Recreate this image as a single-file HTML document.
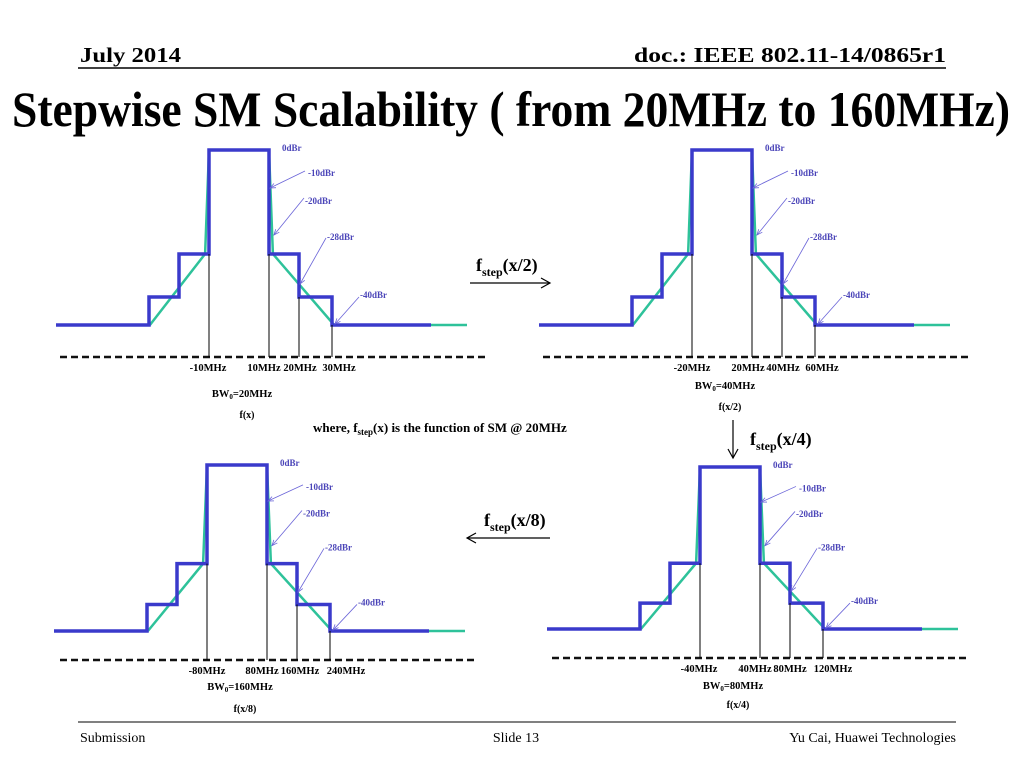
<!DOCTYPE html>
<html><head><meta charset="utf-8"><style>
html,body{margin:0;padding:0;background:#fff;}
svg{display:block;font-family:"Liberation Serif",serif;}
</style></head><body>
<svg id="slide" width="1024" height="768" viewBox="0 0 1024 768" xmlns="http://www.w3.org/2000/svg">
<text x="80" y="62" font-size="21" font-weight="bold" textLength="101" lengthAdjust="spacingAndGlyphs">July 2014</text>
<text x="634" y="62" font-size="21" font-weight="bold" textLength="312" lengthAdjust="spacingAndGlyphs">doc.: IEEE 802.11-14/0865r1</text>
<line x1="78" y1="68" x2="946" y2="68" stroke="#000" stroke-width="1.5"/>
<text x="12" y="126" font-size="50" font-weight="bold" textLength="998" lengthAdjust="spacingAndGlyphs">Stepwise SM Scalability ( from 20MHz to 160MHz)</text>

<g>
<text x="476" y="271" font-size="18" font-weight="bold">f<tspan font-size="12" dy="5">step</tspan><tspan dy="-5">(x/2)</tspan></text>
<line x1="470" y1="283" x2="550" y2="283" stroke="#000" stroke-width="1.2"/>
<polyline points="541,278 550,283 541,288" fill="none" stroke="#000" stroke-width="1.2"/>
</g>
<g>
<text x="750" y="445" font-size="18" font-weight="bold">f<tspan font-size="12" dy="5">step</tspan><tspan dy="-5">(x/4)</tspan></text>
<line x1="733" y1="420" x2="733" y2="458" stroke="#000" stroke-width="1.2"/>
<polyline points="728,449 733,458 738,449" fill="none" stroke="#000" stroke-width="1.2"/>
</g>
<g>
<text x="484" y="526" font-size="18" font-weight="bold">f<tspan font-size="12" dy="5">step</tspan><tspan dy="-5">(x/8)</tspan></text>
<line x1="467" y1="538" x2="550" y2="538" stroke="#000" stroke-width="1.2"/>
<polyline points="476,533 467,538 476,543" fill="none" stroke="#000" stroke-width="1.2"/>
</g>
<text x="313" y="432" font-size="13" font-weight="bold">where, f<tspan font-size="9" dy="3">step</tspan><tspan dy="-3">(x) is the function of SM @ 20MHz</tspan></text>

<g id="panels"></g>

<line x1="78" y1="722" x2="956" y2="722" stroke="#000" stroke-width="1"/>
<text x="80" y="742" font-size="14">Submission</text>
<text x="516" y="742" font-size="14" text-anchor="middle">Slide 13</text>
<text x="956" y="742" font-size="14" text-anchor="end">Yu Cai, Huawei Technologies</text>
</svg>
<script>
// Mask data (normalized frequency units: 1 = one step of 10MHz at 20MHz BW)
const blueFreq = [-6.1, -3, -3, -2, -2, -1, -1, 1, 1, 2, 2, 3.1, 3.1, 6.4];
const blueLevel = [-40, -40, -28, -28, -20, -20, 0, 0, -20, -20, -28, -28, -40, -40];
const greenFreq = [-2.97, -1.13, -1, 1, 1.13, 3.17, 7.6];
const greenLevel = [-40, -20, 0, 0, -20, -40, -40];
const levelNames = ['0dBr', '-10dBr', '-20dBr', '-28dBr', '-40dBr'];
const tickFreq = [-1, 1, 2, 3];
const panelScale = [1, 2, 8, 4];
const panelBW = ['20MHz', '40MHz', '160MHz', '80MHz'];
const panelFunc = ['f(x)', 'f(x/2)', 'f(x/8)', 'f(x/4)'];
const levelFrac = {0: 0, '-20': 0.594, '-28': 0.84, '-40': 1};

const panels = [
  {c: 239, top: 150, bot: 325, dash: 357, dx1: 60, dx2: 488, by: 397, fy: 418, lo: [-1, -5, 31, 70]},
  {c: 722, top: 150, bot: 325, dash: 357, dx1: 543, dx2: 968, by: 389, fy: 410, lo: [0, -4, 31, 70]},
  {c: 237, top: 465, bot: 631, dash: 660, dx1: 60, dx2: 475, by: 690, fy: 712, lo: [0, -5, 33, 79]},
  {c: 730, top: 467, bot: 629, dash: 658, dx1: 552, dx2: 966, by: 689, fy: 708, lo: [-1, -5, 30, 73]}
];
const NS = 'http://www.w3.org/2000/svg';
const root = document.getElementById('panels');
function mk(tag, attrs, parent) {
  const e = document.createElementNS(NS, tag);
  for (const k in attrs) e.setAttribute(k, attrs[k]);
  parent.appendChild(e); return e;
}
panels.forEach((p, i) => {
  const g = mk('g', {}, root);
  
  
  const xs = f => p.c + f * 30;
  const ys = l => p.top + levelFrac[l] * (p.bot - p.top);
  const dash = mk('line', {x1: p.dx1, y1: p.dash, x2: p.dx2, y2: p.dash, stroke: '#111', 'stroke-width': 2.5, 'stroke-dasharray': '7,4'}, g);
  
  
  const green = mk('polyline', {points: greenFreq.map((f, k) => xs(f) + ',' + ys(greenLevel[k])).join(' '), fill: 'none', stroke: '#2ec29a', 'stroke-width': 2.5}, g);
  
  
  const blue = mk('polyline', {points: blueFreq.map((f, k) => xs(f) + ',' + ys(blueLevel[k])).join(' '), fill: 'none', stroke: '#3a3acb', 'stroke-width': 3.5}, g);
  
  
  const fromLev = {'-1': -20, '1': -20, '2': -28, '3': -40};
  const R = xs(1), L = xs(-1);
  tickFreq.forEach((f, k) => {
    const xf = f === 3 ? xs(3.1) : xs(f);
    const l = mk('line', {x1: xf, y1: ys(fromLev[f]), x2: xf, y2: p.dash, stroke: '#000', 'stroke-width': 1}, g);
    
    
    const t = mk('text', {x: (f === -1 ? L : R) + p.lo[k], y: p.dash + 14, 'font-size': 10.5, 'font-weight': 'bold', 'text-anchor': 'middle'}, g);
    t.textContent = (f * 10 * panelScale[i]) + 'MHz';
    
    
  });
  const bw = mk('text', {x: p.c + 3, y: p.by, 'font-size': 10.5, 'font-weight': 'bold', 'text-anchor': 'middle'}, g);
  bw.innerHTML = 'BW<tspan font-size="7" dy="2">0</tspan><tspan dy="-2">=' + panelBW[i] + '</tspan>';
  
  
  const fn = mk('text', {x: p.c + 8, y: p.fy, 'font-size': 10, 'font-weight': 'bold', 'text-anchor': 'middle'}, g);
  fn.textContent = panelFunc[i];
  
  
  const T = p.top, H = p.bot - p.top;
  const lab = [[13, -2], [39, 23], [36, 51], [58, 87], [91, 145]];
  const arr = [null, [36, 21, 1, 38], [35, 48, 5, 85], [57, 88, 31, 134], [90, 147, 66, 174]];
  levelNames.forEach((n, k) => {
    const sy = H / 175;
    const t = mk('text', {x: R + lab[k][0], y: T + lab[k][1] * sy + 3, 'font-size': 9, 'font-weight': 'bold', fill: '#4a44b8'}, g);
    t.textContent = n;
    
    
    if (arr[k]) {
      const a = arr[k];
      const x1 = R + a[0], y1 = T + a[1] * sy, x2 = R + a[2], y2 = T + a[3] * sy;
      const ln = mk('line', {x1: x1, y1: y1, x2: x2, y2: y2, stroke: '#6a64d8', 'stroke-width': 0.8}, g);
      
      
      const ang = Math.atan2(y2 - y1, x2 - x1), s = 6;
      const hp = [[x2 - s * Math.cos(ang - 0.4), y2 - s * Math.sin(ang - 0.4)], [x2, y2], [x2 - s * Math.cos(ang + 0.4), y2 - s * Math.sin(ang + 0.4)]];
      const hd = mk('polyline', {points: hp.map(q => q.join(',')).join(' '), fill: 'none', stroke: '#6a64d8', 'stroke-width': 0.8}, g);
      
      
    }
  });
});
</script>
</body></html>
